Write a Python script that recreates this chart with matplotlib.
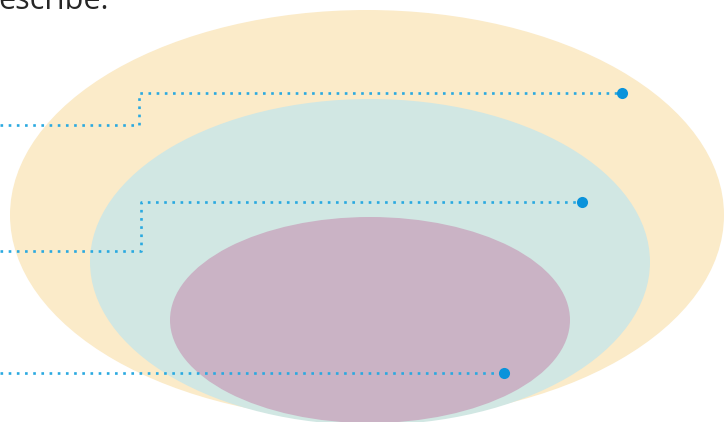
import matplotlib.pyplot as plt
from matplotlib.patches import Ellipse

W, H = 724, 422

# nested ellipses: centre x, centre y, width, height (pixels, y down)
ell_names = ['outer', 'middle', 'inner']
ell_cx = [367, 370, 370]
ell_cy = [215, 262, 320]
ell_w = [714, 560, 400]
ell_h = [410, 326, 206]
ell_colors = ['#FBEBC9', '#D1E7E3', '#CAB3C5']

# leader lines: list of (x, y) vertices, last one gets the big dot
leader_x = [[0, 139, 139, 622], [0, 141, 141, 582], [0, 504]]
leader_y = [[125, 125, 93, 93], [251, 251, 202, 202], [373, 373]]

title_text = 'escribe.'

fig = plt.figure(figsize=(W / 100, H / 100), dpi=100)
ax = fig.add_axes([0, 0, 1, 1])
ax.set_xlim(0, W)
ax.set_ylim(H, 0)
ax.axis('off')

for cx, cy, w, h, c in zip(ell_cx, ell_cy, ell_w, ell_h, ell_colors):
    ax.add_patch(Ellipse((cx, cy), w, h, facecolor=c, edgecolor='none'))

for xs, ys in zip(leader_x, leader_y):
    ax.plot(xs, ys, color='#2AA9E0', lw=1.9, linestyle=(0, (1, 2.1)),
            dash_capstyle='butt')
    ax.plot(xs[-1], ys[-1], 'o', color='#0A93DB', markersize=8,
            markeredgewidth=0)

ax.text(-2, 9, title_text, fontsize=22, family='Open Sans', color='#262626',
        weight='medium', va='baseline', ha='left')

fig.savefig('out.png', dpi=100)
